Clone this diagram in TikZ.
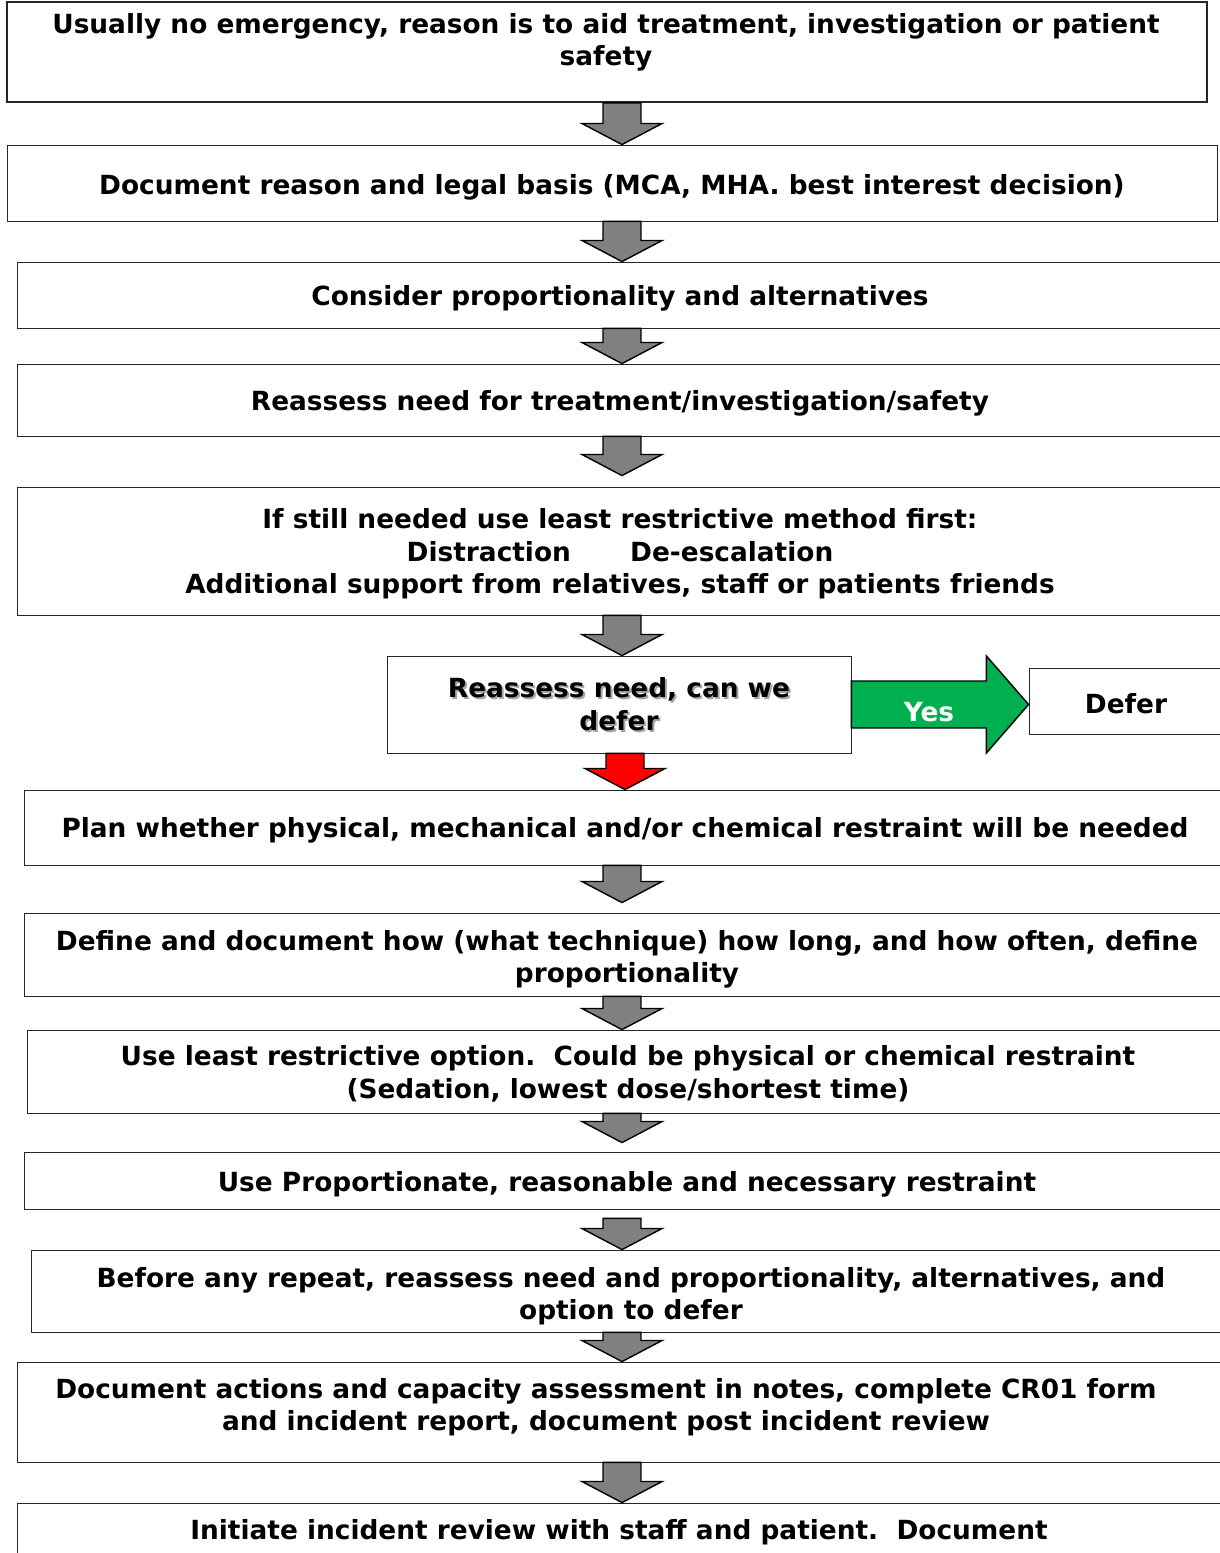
\documentclass[tikz,border=0pt]{standalone}
\usepackage{fontspec}
\setmainfont{DejaVu Sans}
\usetikzlibrary{calc,fit}

\definecolor{arrowgray}{HTML}{808080}
\definecolor{yesgreen}{HTML}{00B050}
\definecolor{nored}{HTML}{FF0000}

\tikzset{
  flowbox/.style={draw=black!85, line width=0.6pt, inner sep=0pt},
  flowtext/.style={font=\fontsize{18.75}{23}\selectfont\bfseries, align=center, inner sep=0pt},
  blockarrow/.style={draw=black, line width=1pt, line join=miter},
}

% block arrow pointing down, from #2 to #3
\newcommand{\downblock}[3]{%
  \draw[blockarrow, fill=#1] let \p1=(#2), \p2=(#3) in
    (\x1-13.5pt,\y1) -- (\x1+13.5pt,\y1) -- (\x1+13.5pt,\y2+15pt)
    -- (\x1+28.5pt,\y2+15pt) -- (\x1,\y2) -- (\x1-28.5pt,\y2+15pt)
    -- (\x1-13.5pt,\y2+15pt) -- cycle;}

\begin{document}
\begin{tikzpicture}[x=0.025cm, y=-0.025cm]
\useasboundingbox (0,0) rectangle (1219,1553);
\coordinate (spine) at (622,0);

% boxes
\node[flowbox, line width=1.2pt, fit={(7,2) (1207,102)}] (b1) {};
\node[flowbox, fit={(7,145) (1217,221)}] (b2) {};
\node[flowbox, fit={(17,262) (1240,328)}] (b3) {};
\node[flowbox, fit={(17,364) (1240,436)}] (b4) {};
\node[flowbox, fit={(17,487) (1240,615)}] (b5) {};
\node[flowbox, fit={(387,656) (851,753)}] (b6) {};
\node[flowbox, fit={(1029,668) (1240,734)}] (defer) {};
\node[flowbox, fit={(24,790) (1240,865)}] (b7) {};
\node[flowbox, fit={(24,913) (1240,996)}] (b8) {};
\node[flowbox, fit={(27,1030) (1240,1113)}] (b9) {};
\node[flowbox, fit={(24,1152) (1240,1209)}] (b10) {};
\node[flowbox, fit={(31,1250) (1240,1332)}] (b11) {};
\node[flowbox, fit={(17,1362) (1240,1462)}] (b12) {};
\node[flowbox, fit={(17,1503) (1240,1580)}] (b13) {};

% texts
\node[flowtext] (t1) at (606,42) {Usually no emergency, reason is to aid treatment, investigation or patient\\safety};
\node[flowtext] (t2) at (612,187) {Document reason and legal basis (MCA, MHA. best interest decision)};
\node[flowtext] (t3) at (620,298) {Consider proportionality and alternatives};
\node[flowtext] (t4) at (620,403) {Reassess need for treatment/investigation/safety};
\node[flowtext] (t5) at (620,554) {If still needed use least restrictive method first:\\Distraction\hspace{1.9em} De-escalation\\Additional support from relatives, staff or patients friends};
\node[flowtext, text=black!35] (t6s) at (621,706) {Reassess need, can we\\defer};
\node[flowtext] (t6) at (619,704) {Reassess need, can we\\defer};
\node[flowtext] (tdefer) at (1126,704) {Defer};
\node[flowtext] (t7) at (625,830) {Plan whether physical, mechanical and/or chemical restraint will be needed};
\node[flowtext] (t8) at (627,959) {Define and document how (what technique) how long, and how often, define\\proportionality};
\node[flowtext] (t9) at (628,1074) {Use least restrictive option.\ \ Could be physical or chemical restraint\\(Sedation, lowest dose/shortest time)};
\node[flowtext] (t10) at (627,1184) {Use Proportionate, reasonable and necessary restraint};
\node[flowtext] (t11) at (631,1296) {Before any repeat, reassess need and proportionality, alternatives, and\\option to defer};
\node[flowtext] (t12) at (606,1407) {Document actions and capacity assessment in notes, complete CR01 form\\and incident report, document post incident review};
\node[flowtext] (t13) at (619,1532) {Initiate incident review with staff and patient.\ \ Document};

% arrows
\downblock{arrowgray}{spine |- b1.south}{spine |- b2.north}
\downblock{arrowgray}{spine |- b2.south}{spine |- b3.north}
\downblock{arrowgray}{spine |- b3.south}{spine |- b4.north}
\downblock{arrowgray}{spine |- b4.south}{$(spine |- b5.north)+(0,-11)$}
\downblock{arrowgray}{spine |- b5.south}{spine |- b6.north}
\downblock{nored}{b6.south -| t7}{t7 |- b7.north}
\downblock{arrowgray}{spine |- b7.south}{$(spine |- b8.north)+(0,-10)$}
\downblock{arrowgray}{spine |- b8.south}{spine |- b9.north}
\downblock{arrowgray}{spine |- b9.south}{$(spine |- b10.north)+(0,-9)$}
\downblock{arrowgray}{$(spine |- b10.south)+(0,9)$}{spine |- b11.north}
\downblock{arrowgray}{spine |- b11.south}{spine |- b12.north}
\downblock{arrowgray}{spine |- b12.south}{spine |- b13.north}

% yes arrow
\draw[blockarrow, fill=yesgreen] let \p1=(b6.east), \p2=(defer.west) in
  (\x1,\y1+16.7pt) -- (\x2-30pt,\y1+16.7pt) -- (\x2-30pt,\y1+34.5pt) -- (\x2,\y1)
  -- (\x2-30pt,\y1-34.5pt) -- (\x2-30pt,\y1-16.7pt) -- (\x1,\y1-16.7pt) -- cycle;
\node[flowtext, text=white] (yes) at (929,712) {Yes};
\end{tikzpicture}
\end{document}
